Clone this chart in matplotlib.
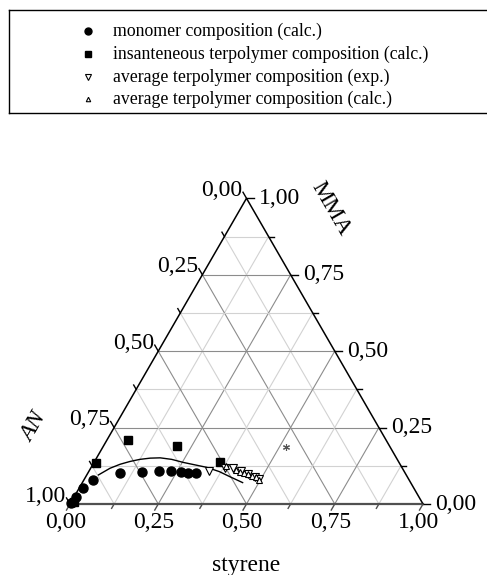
"""Ternary diagram of AN / MMA / styrene terpolymer compositions."""
import numpy as np
import matplotlib
matplotlib.use("Agg")
import matplotlib.pyplot as plt

plt.rcParams["font.family"] = "serif"
plt.rcParams["font.serif"] = ["Liberation Serif", "DejaVu Serif"]

# Data: (styrene, MMA) fractions, AN = 1 - styrene - MMA
mono_sty = [0.002, 0.004, 0.005, 0.009, 0.027, 0.090, 0.150, 0.199, 0.231, 0.262, 0.284, 0.306]
mono_mma = [0.003, 0.008, 0.024, 0.053, 0.079, 0.102, 0.106, 0.108, 0.108, 0.104, 0.102, 0.100]

inst_sty = [0.006, 0.006, 0.060, 0.209, 0.357]
inst_mma = [0.008, 0.133, 0.209, 0.191, 0.136]

exp_sty = [0.341, 0.379, 0.403, 0.430, 0.455, 0.480, 0.495]
exp_mma = [0.107, 0.119, 0.118, 0.108, 0.098, 0.088, 0.082]

calc_sty = [0.380, 0.415, 0.429, 0.442, 0.456, 0.470, 0.484, 0.495]
calc_mma = [0.124, 0.111, 0.106, 0.101, 0.097, 0.092, 0.087, 0.080]

fit_sty = [0.033, 0.055, 0.077, 0.100, 0.125, 0.152, 0.180, 0.215, 0.253, 0.290, 0.327, 0.370, 0.409, 0.454]
fit_mma = [0.095, 0.117, 0.130, 0.139, 0.146, 0.150, 0.151, 0.146, 0.136, 0.128, 0.120, 0.106, 0.089, 0.070]

star_sty = [0.518]
star_mma = [0.187]

tick_vals = [0.0, 0.25, 0.5, 0.75, 1.0]
tick_text = ["0,00", "0,25", "0,50", "0,75", "1,00"]

legend_labels = [
    "monomer composition (calc.)",
    "insanteneous terpolymer composition (calc.)",
    "average terpolymer composition (exp.)",
    "average terpolymer composition (calc.)",
]

H = np.sqrt(3) / 2


def tern(s, m):
    s = np.asarray(s, dtype=float)
    m = np.asarray(m, dtype=float)
    return s + m / 2, m * H


fig = plt.figure(figsize=(4.87, 5.75), dpi=100)

# ---- legend box (drawn as its own axes in pixel units) ----
lax = fig.add_axes([9 / 487, (575 - 113) / 575, 1.0, 103 / 575])
lax.set_xlim(9, 496)
lax.set_ylim(113, 10)
lax.set_xticks([])
lax.set_yticks([])
for sp in lax.spines.values():
    sp.set_linewidth(1.0)
    sp.set_color("black")
rows = [31, 54, 77, 99]
lax.plot([88], [rows[0]], "o", color="black", ms=5)
lax.plot([88], [rows[1]], "s", color="black", ms=4.5)
lax.plot([88], [rows[2]], "v", mfc="white", mec="black", mew=0.8, ms=5)
lax.plot([88], [rows[3]], "^", mfc="white", mec="black", mew=0.8, ms=3.2)
for y, lab in zip(rows, legend_labels):
    lax.text(113, y, lab, fontsize=12.8, va="center", ha="left")

# ---- ternary axes ----
ax = fig.add_axes([70 / 487, (575 - 504) / 575, 353 / 487, 305.7 / 575])
ax.set_xlim(0, 1)
ax.set_ylim(0, H)
ax.axis("off")

# grid
for k in range(1, 8):
    v = k / 8
    col = "#8c8c8c" if k % 2 == 0 else "#d2d2d2"
    # constant MMA
    x, y = tern([0, 1 - v], [v, v])
    ax.plot(x, y, color=col, lw=0.8, zorder=1)
    # constant styrene
    x, y = tern([v, v], [0, 1 - v])
    ax.plot(x, y, color=col, lw=0.8, zorder=1)
    # constant AN
    x, y = tern([1 - v, 0], [0, 1 - v])
    ax.plot(x, y, color=col, lw=0.8, zorder=1)

# edges
x, y = tern([0, 1], [0, 0])
ax.plot(x, y, color="#505050", lw=1.6, zorder=2, clip_on=False)
x, y = tern([0, 0, 1], [0, 1, 0])
ax.plot(x, y, color="black", lw=1.1, zorder=2, clip_on=False)

# ticks (length in data units; 1 unit = 353 px)
for k in range(0, 9):
    v = k / 8
    L = (7 if k % 2 == 0 else 5) / 353
    # bottom: continue constant-styrene line down-left
    x0, y0 = tern(v, 0)
    ax.plot([x0, x0 - L * 0.5], [y0, y0 - L * H], color="#505050", lw=1, clip_on=False)
    # right: horizontal to the right
    x0, y0 = tern(1 - v, v)
    ax.plot([x0, x0 + L], [y0, y0], color="black", lw=1, clip_on=False)
    # left: continue constant-AN line up-left
    x0, y0 = tern(0, v)
    ax.plot([x0, x0 - L * 0.5], [y0, y0 + L * H], color="black", lw=1, clip_on=False)

# tick labels
for v, t in zip(tick_vals, tick_text):
    # bottom: styrene
    ax.annotate(t, tern(v, 0), xytext=(-4.5, -19), textcoords="offset pixels",
                ha="center", va="center", fontsize=17, annotation_clip=False)
    # right: MMA
    ax.annotate(t, tern(1 - v, v), xytext=(12, 0), textcoords="offset pixels",
                ha="left", va="center", fontsize=17, annotation_clip=False)
    # left: AN (AN value = 1 - MMA on this edge)
    ax.annotate(t, tern(0, 1 - v), xytext=(-4, 8), textcoords="offset pixels",
                ha="right", va="center", fontsize=17, annotation_clip=False)

# axis titles
ax.annotate("styrene", tern(0.5, 0), xytext=(0, -61), textcoords="offset pixels",
            ha="center", va="center", fontsize=17, annotation_clip=False)
ax.annotate("MMA", tern(0, 1.0), xytext=(84, -10), textcoords="offset pixels",
            ha="center", va="center", fontsize=17, rotation=-60, annotation_clip=False)
ax.annotate("AN", tern(0, 0), xytext=(-36, 77), textcoords="offset pixels",
            ha="center", va="center", fontsize=17, rotation=60, style="italic",
            annotation_clip=False)

# data
x, y = tern(fit_sty, fit_mma)
ax.plot(x, y, color="black", lw=1.0, zorder=3)
x, y = tern(mono_sty, mono_mma)
ax.plot(x, y, "o", color="black", ms=6.5, zorder=4, clip_on=False)
x, y = tern(inst_sty, inst_mma)
ax.plot(x, y, "s", color="black", ms=5.5, zorder=4, clip_on=False)
x, y = tern(exp_sty, exp_mma)
ax.plot(x, y, "v", mfc="white", mec="black", mew=0.8, ms=5.5, zorder=5)
x, y = tern(calc_sty, calc_mma)
ax.plot(x, y, "^", mfc="white", mec="black", mew=0.8, ms=4, zorder=5)
x, y = tern(star_sty, star_mma)
ax.plot(x, y, marker=(6, 2, 0), ls="none", color="#555555", ms=5, mew=0.8, zorder=5)

fig.savefig("out.png", dpi=100)
